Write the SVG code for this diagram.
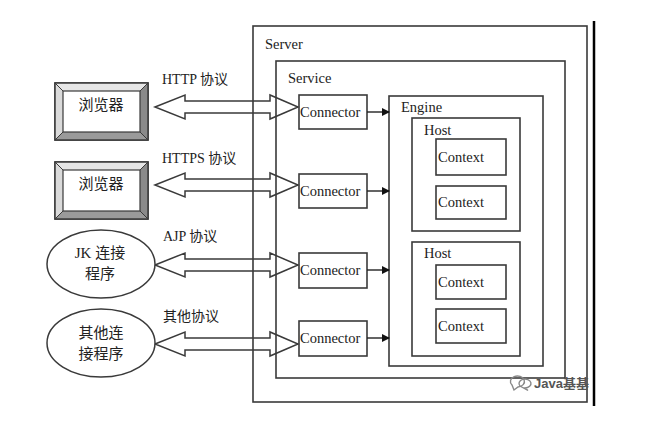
<svg xmlns="http://www.w3.org/2000/svg" width="645" height="426" viewBox="0 0 645 426">
<defs>
<style>
.box{fill:none;stroke:#3a3a3a;stroke-width:1.6}
.lbl{font-family:"Liberation Serif","Noto Sans CJK SC",serif;font-size:14.5px;fill:#222}
.cjk{font-family:"Liberation Serif","Noto Sans CJK SC",serif;font-size:14px;fill:#222}
.dbl{fill:#fff;stroke:#3a3a3a;stroke-width:1.5;stroke-linejoin:miter}
.ell{fill:#fff;stroke:#3a3a3a;stroke-width:1.5}
.con{stroke:#222;stroke-width:1.4;fill:none}
</style>
<marker id="ah" markerWidth="8" markerHeight="8" refX="7" refY="4" orient="auto" markerUnits="userSpaceOnUse">
<path d="M0,0 L8,4 L0,8 Z" fill="#111"/>
</marker>
<g id="bevel">
<rect x="0" y="0" width="93" height="57" fill="#fff" stroke="#3a3a3a" stroke-width="1.5"/>
<polygon points="0,0 93,0 85,8 8,8" fill="#e6e6e6"/>
<polygon points="0,0 8,8 8,49 0,57" fill="#dadada"/>
<polygon points="93,0 93,57 85,49 85,8" fill="#8a8a8a"/>
<polygon points="0,57 93,57 85,49 8,49" fill="#9a9a9a"/>
<rect x="0" y="0" width="93" height="57" fill="none" stroke="#3a3a3a" stroke-width="1.5"/>
<rect x="8" y="8" width="77" height="41" fill="#fff" stroke="#3a3a3a" stroke-width="1.2"/>
<path d="M0,0 L8,8 M93,0 L85,8 M0,57 L8,49 M93,57 L85,49" stroke="#3a3a3a" stroke-width="1"/>
</g>
</defs>
<rect width="645" height="426" fill="#fff"/>

<!-- double arrows (drawn under boxes) -->
<g id="protocols">
<polygon class="dbl" points="155,107 185,95 185,101 270,101 270,95 298,107 270,119 270,113 185,113 185,119"/>
<polygon class="dbl" points="155,185 185,173 185,179 270,179 270,173 298,185 270,197 270,191 185,191 185,197"/>
<polygon class="dbl" points="155,265 185,253 185,259 270,259 270,253 298,265 270,277 270,271 185,271 185,277"/>
<polygon class="dbl" points="155,344 185,332 185,338 270,338 270,332 298,344 270,356 270,350 185,350 185,356"/>
<text class="cjk" x="162" y="84">HTTP 协议</text>
<text class="cjk" x="162" y="163">HTTPS 协议</text>
<text class="cjk" x="163" y="241">AJP 协议</text>
<text class="cjk" x="163" y="321">其他协议</text>
</g>

<g id="server">
<rect class="box" x="253" y="26" width="334" height="376"/>
<text class="lbl" x="265" y="49">Server</text>
</g>
<line x1="594" y1="21" x2="594" y2="406" stroke="#000" stroke-width="2.5"/>

<g id="service">
<rect class="box" x="276" y="61" width="289" height="317"/>
<text class="lbl" x="288" y="83">Service</text>
</g>

<g id="engine">
<rect class="box" x="389" y="96" width="154" height="270"/>
<text class="lbl" x="401" y="112">Engine</text>
</g>

<g id="host1">
<rect class="box" x="412" y="118" width="108" height="113"/>
<text class="lbl" x="424" y="135">Host</text>
</g>
<g id="host2">
<rect class="box" x="412" y="242" width="108" height="114"/>
<text class="lbl" x="424" y="258">Host</text>
</g>

<g id="context1"><rect class="box" x="436" y="139" width="70" height="36"/><text class="lbl" x="438" y="162">Context</text></g>
<g id="context2"><rect class="box" x="436" y="186" width="70" height="33"/><text class="lbl" x="438" y="207">Context</text></g>
<g id="context3"><rect class="box" x="436" y="265" width="70" height="34"/><text class="lbl" x="438" y="287">Context</text></g>
<g id="context4"><rect class="box" x="436" y="309" width="70" height="34"/><text class="lbl" x="438" y="331">Context</text></g>

<g id="connector1"><rect class="box" x="299" y="95" width="68" height="34"/><text class="lbl" x="300" y="117">Connector</text></g>
<g id="connector2"><rect class="box" x="299" y="174" width="68" height="34"/><text class="lbl" x="300" y="196">Connector</text></g>
<g id="connector3"><rect class="box" x="299" y="253" width="68" height="35"/><text class="lbl" x="300" y="275">Connector</text></g>
<g id="connector4"><rect class="box" x="299" y="321" width="68" height="35"/><text class="lbl" x="300" y="343">Connector</text></g>

<g id="connectors">
<line class="con" x1="367" y1="112" x2="389" y2="112" marker-end="url(#ah)"/>
<line class="con" x1="367" y1="191" x2="389" y2="191" marker-end="url(#ah)"/>
<line class="con" x1="367" y1="270" x2="389" y2="270" marker-end="url(#ah)"/>
<line class="con" x1="367" y1="338" x2="389" y2="338" marker-end="url(#ah)"/>
</g>

<g id="browser1">
<use href="#bevel" x="55" y="83"/>
<text class="cjk" x="101" y="110" text-anchor="middle" style="font-size:15px">浏览器</text>
</g>
<g id="browser2">
<use href="#bevel" x="55" y="162"/>
<text class="cjk" x="101" y="189" text-anchor="middle" style="font-size:15px">浏览器</text>
</g>

<g id="jk">
<ellipse class="ell" cx="101" cy="264" rx="54" ry="34"/>
<text class="cjk" x="100" y="258" text-anchor="middle" style="font-size:15px">JK 连接</text>
<text class="cjk" x="100" y="279" text-anchor="middle" style="font-size:15px">程序</text>
</g>
<g id="other">
<ellipse class="ell" cx="101" cy="343" rx="54" ry="34"/>
<text class="cjk" x="101" y="338" text-anchor="middle" style="font-size:15px">其他连</text>
<text class="cjk" x="101" y="359" text-anchor="middle" style="font-size:15px">接程序</text>
</g>

<g id="logo">
<path d="M512,385 a7,5.5 0 1,1 6,2 l-4,3 z" fill="none" stroke="#888" stroke-width="1.4"/>
<path d="M520,386 a6,4.5 0 1,1 5,2 l3,2.5 z" fill="none" stroke="#888" stroke-width="1.4"/>
<text x="534" y="388" style="font-family:'Liberation Sans','Noto Sans CJK SC',sans-serif;font-size:13px;font-weight:bold;fill:#555">Java基基</text>
</g>
</svg>
